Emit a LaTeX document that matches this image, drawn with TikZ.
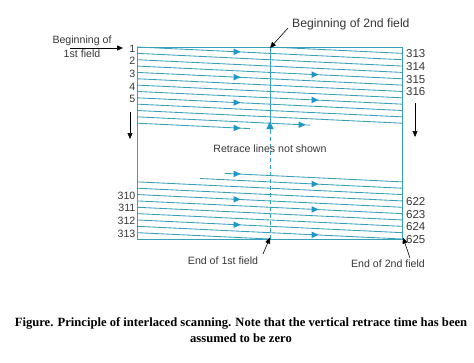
\documentclass[tikz,border=0pt]{standalone}
\usepackage{fontspec}
\setmainfont{Liberation Serif}
\newfontfamily\arialfont{Liberation Sans}
\usetikzlibrary{arrows.meta}
\definecolor{scan}{RGB}{55,160,185}
\definecolor{arr}{RGB}{30,150,200}
\definecolor{txt}{RGB}{55,55,55}
\def\slope{0.047925}
\newcommand\scanseg[3]{\draw[scanline] (#2,{#1+\slope*(#2-137)}) -- (#3,{#1+\slope*(#3-137)});}
\newcommand\scanarr[2]{\fill[arr] ({#2+3.5},{#1+\slope*(#2-137)}) -- ++(-7,-3.3) -- ++(0,6.6) -- cycle;}
\begin{document}
\begin{tikzpicture}[x=1pt,y=-1pt,
  scanline/.style={draw=scan,line width=0.85pt},
  lbl/.style={text=txt,font=\arialfont\fontsize{10.6}{13}\selectfont,inner sep=0pt},
  blk/.style={draw=black,line width=0.6pt,-{Triangle[length=6pt,width=5pt]}}]
\useasboundingbox[fill=white] (0,0) rectangle (474,362);
% ---- top group, field 1
\foreach \i in {0,...,5} {\scanseg{47+12.7*\i}{137}{402}}
\scanseg{123.2}{137}{250}
\foreach \i in {0,2,4,6} {\scanarr{47+12.7*\i}{237}}
% ---- top group, field 2
\draw[scanline] (270,47) -- (402,53.35);
\foreach \k in {0,...,4} {\scanseg{53.35+12.7*\k}{137}{402}}
\scanseg{116.85}{137}{310}
\scanarr{66.05}{315}
\scanarr{91.45}{315}
\scanarr{116.85}{302}
% ---- bottom group, field 1
\scanseg{232.65}{137}{270}
\foreach \j in {1,...,4} {\scanseg{232.65-12.7*\j}{137}{402}}
\scanseg{169.15}{225}{402}
\scanarr{219.95}{237}
\scanarr{194.55}{237}
\scanarr{169.15}{237}
% ---- bottom group, field 2
\foreach \j in {0,...,3} {\scanseg{226.3-12.7*\j}{137}{402}}
\scanseg{175.5}{200}{402}
\scanarr{226.3}{315}
\scanarr{200.9}{315}
\scanarr{175.5}{315}
% ---- frame and retrace line
\draw[draw=scan,line width=1pt] (137,47) rectangle (402,239);
\coordinate (topmid) at (270,47);
\coordinate (midbreak) at (270,130);
\coordinate (botmid) at (270,239);
\coordinate (botright) at (402,239);
\draw[draw=scan,line width=0.85pt] (topmid) -- (midbreak);
\draw[draw=scan,line width=0.85pt,dash pattern=on 4pt off 3pt] (midbreak) -- (botmid);
\fill[arr] (270,121.5) -- (266.3,129) -- (273.7,129) -- cycle;
% ---- labels
\foreach \n in {1,...,5} {\node[lbl,anchor=east] (l\n) at (135.5,{48.5+12.7*(\n-1)}) {\n};}
\foreach \n [count=\k from 0] in {313,314,315,316} {\node[lbl,anchor=west,font=\arialfont\fontsize{11.5}{13}\selectfont] (r\n) at (406,{53.8+12.7*\k}) {\n};}
\foreach \n [count=\k from 0] in {310,311,312,313} {\node[lbl,anchor=east] (bl\n) at (135.5,{195.6+12.7*\k}) {\n};}
\foreach \n [count=\k from 0] in {622,623,624,625} {\node[lbl,anchor=west,font=\arialfont\fontsize{11.5}{13}\selectfont] (br\n) at (406,{201.4+12.7*\k}) {\n};}
\node[lbl,align=center,font=\arialfont\fontsize{10.6}{14}\selectfont] (bof1) at (82,47) {Beginning of\\1st field};
\node[lbl,anchor=west,font=\arialfont\fontsize{12.2}{14}\selectfont] (bof2) at (292,24) {Beginning of 2nd field};
\node[lbl] (retr) at (270,149) {Retrace lines not shown};
\node[lbl] (eof1) at (223,261) {End of 1st field};
\node[lbl] (eof2) at (388,264) {End of 2nd field};
% ---- direction arrows
\coordinate (la1) at (70,48); \coordinate (la2) at (123,48);
\draw[blk] (la1) -- (la2);
\coordinate (b2a) at (288,28);
\draw[blk] (b2a) -- ([yshift=-1pt]topmid);
\coordinate (e1a) at (263,254);
\draw[blk] (e1a) -- ([yshift=1.5pt]botmid);
\coordinate (e2a) at (410,258);
\draw[blk] (e2a) -- ([xshift=1pt,yshift=1.5pt]botright);
\coordinate (dl1) at (130,112); \coordinate (dl2) at (130,139);
\draw[blk] (dl1) -- (dl2);
\coordinate (dr1) at (415,103); \coordinate (dr2) at (415,137);
\draw[blk] (dr1) -- (dr2);
% ---- caption
\node[align=center,font=\bfseries\fontsize{12.6}{16}\selectfont,inner sep=0pt] (cap) at (241,330)
  {Figure. Principle of interlaced scanning. Note that the vertical retrace time has been\\assumed to be zero};
\end{tikzpicture}
\end{document}
